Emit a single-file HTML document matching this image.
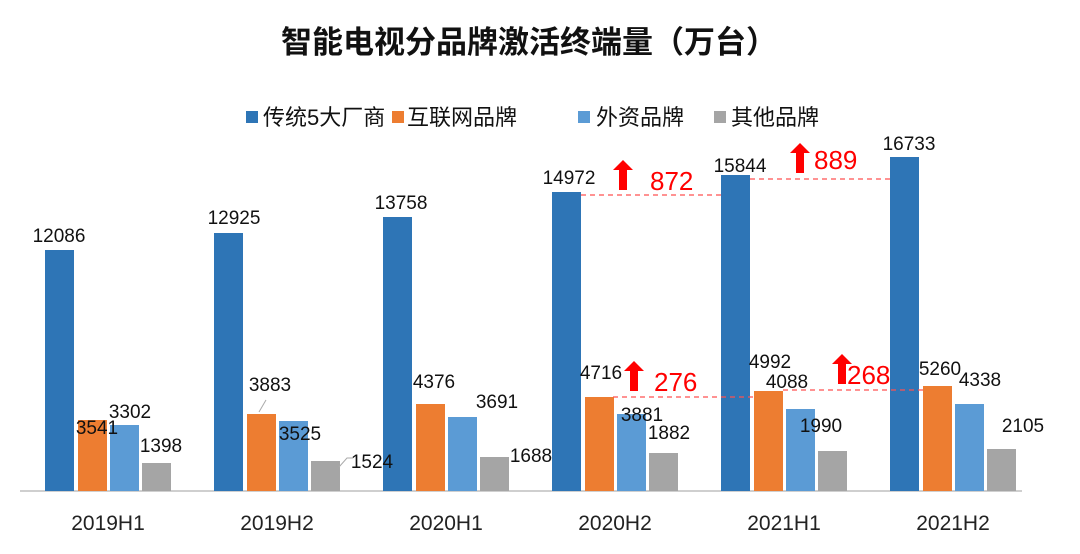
<!DOCTYPE html>
<html><head><meta charset="utf-8"><style>
body{margin:0;background:#fff}
svg text{font-family:"Liberation Sans","Noto Sans CJK SC",sans-serif}
</style></head><body>
<svg width="1080" height="549" viewBox="0 0 1080 549" xmlns="http://www.w3.org/2000/svg">
<text x="529" y="53" text-anchor="middle" font-size="31" font-weight="bold" fill="#111">智能电视分品牌激活终端量（万台）</text>
<g font-size="22" fill="#111">
<rect x="246" y="111" width="12" height="12" fill="#2e75b6"/><text x="263" y="125">传统5大厂商</text>
<rect x="392" y="111" width="12" height="12" fill="#ed7d31"/><text x="407" y="125">互联网品牌</text>
<rect x="578" y="111" width="12" height="12" fill="#5b9bd5"/><text x="596" y="125">外资品牌</text>
<rect x="714" y="111" width="12" height="12" fill="#a5a5a5"/><text x="731" y="125">其他品牌</text>
</g>
<line x1="20" y1="491" x2="1022" y2="491" stroke="#bfbfbf" stroke-width="1.5"/>
<g font-size="21" fill="#222" text-anchor="middle">
<text x="108" y="530">2019H1</text><text x="277" y="530">2019H2</text><text x="446" y="530">2020H1</text>
<text x="615" y="530">2020H2</text><text x="784" y="530">2021H1</text><text x="953" y="530">2021H2</text>
</g>
<g fill="#2e75b6">
<rect x="45" y="250" width="29" height="241"/><rect x="214" y="233" width="29" height="258"/><rect x="383" y="217" width="29" height="274"/>
<rect x="552" y="192" width="29" height="299"/><rect x="721" y="175" width="29" height="316"/><rect x="890" y="157" width="29" height="334"/>
</g>
<g fill="#ed7d31">
<rect x="78" y="420" width="29" height="71"/><rect x="247" y="414" width="29" height="77"/><rect x="416" y="404" width="29" height="87"/>
<rect x="585" y="397" width="29" height="94"/><rect x="754" y="391" width="29" height="100"/><rect x="923" y="386" width="29" height="105"/>
</g>
<g fill="#5b9bd5">
<rect x="110" y="425" width="29" height="66"/><rect x="279" y="421" width="29" height="70"/><rect x="448" y="417" width="29" height="74"/>
<rect x="617" y="414" width="29" height="77"/><rect x="786" y="409" width="29" height="82"/><rect x="955" y="404" width="29" height="87"/>
</g>
<g fill="#a5a5a5">
<rect x="142" y="463" width="29" height="28"/><rect x="311" y="461" width="29" height="30"/><rect x="480" y="457" width="29" height="34"/>
<rect x="649" y="453" width="29" height="38"/><rect x="818" y="451" width="29" height="40"/><rect x="987" y="449" width="29" height="42"/>
</g>
<g font-size="19" fill="#111" text-anchor="middle">
<text x="59" y="242">12086</text><text x="97" y="434">3541</text><text x="130" y="418">3302</text><text x="161" y="452">1398</text>
<text x="234" y="224">12925</text><text x="270" y="391">3883</text><text x="300" y="440">3525</text><text x="372" y="468">1524</text>
<text x="401" y="209">13758</text><text x="434" y="388">4376</text><text x="497" y="408">3691</text><text x="531" y="462">1688</text>
<text x="569" y="184">14972</text><text x="601" y="379">4716</text><text x="642" y="421">3881</text><text x="669" y="439">1882</text>
<text x="740" y="172">15844</text><text x="770" y="368">4992</text><text x="787" y="388">4088</text><text x="821" y="432">1990</text>
<text x="909" y="150">16733</text><text x="940" y="375">5260</text><text x="980" y="386">4338</text><text x="1023" y="432">2105</text>
</g>
<line x1="259" y1="412" x2="266" y2="400" stroke="#aaa"/>
<polyline points="339,467 347,458 353,458" fill="none" stroke="#aaa"/>
<g stroke="#ff5050" stroke-width="1.2" stroke-dasharray="5,4">
<line x1="581" y1="195" x2="722" y2="195"/><line x1="750" y1="179" x2="890" y2="179"/>
<line x1="613" y1="397" x2="754" y2="397"/><line x1="783" y1="390" x2="923" y2="390"/>
</g>
<g fill="#ff0000">
<polygon points="623,160 633,170 627,170 627,190 619,190 619,170 613,170"/>
<polygon points="800,143 810,153 804,153 804,173 796,173 796,153 790,153"/>
<polygon points="634,361 644,371 638,371 638,391 630,391 630,371 624,371"/>
<polygon points="842,354 852,364 846,364 846,384 838,384 838,364 832,364"/>
</g>
<g font-size="26" fill="#ff0000">
<text x="650" y="190">872</text><text x="814" y="169">889</text><text x="654" y="391">276</text><text x="847" y="384">268</text>
</g>
</svg>
</body></html>
